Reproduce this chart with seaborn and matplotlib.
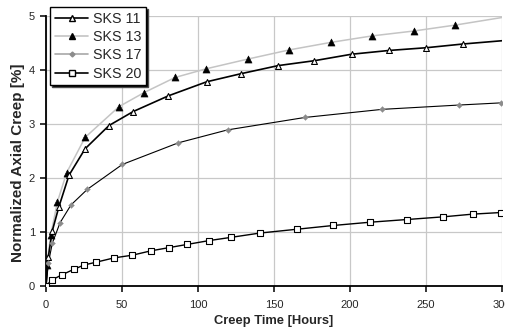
import matplotlib

matplotlib.use("Agg")
import matplotlib.pyplot as plt
import pandas as pd
import seaborn as sns
from matplotlib.lines import Line2D

# Values
sks11_hours = [0, 1.5, 4.1, 8.5, 15.1, 25.7, 41.4, 57.4, 80.5, 105.7, 128.3, 152.8,
               176.5, 201, 225.7, 250, 274.5, 300]
sks11_creep = [0, 0.54, 1.02, 1.47, 2.05, 2.54, 2.97, 3.23, 3.52, 3.78, 3.93, 4.08,
               4.17, 4.29, 4.36, 4.41, 4.48, 4.54]
sks11_marked = [False] + [True] * 16 + [False]

sks13_hours = [0, 0.5, 3.1, 7.5, 13.6, 25.7, 48, 64.5, 84.9, 105.3, 132.7, 160,
               187.5, 214.7, 242, 269.3, 300]
sks13_creep = [0, 0.39, 0.94, 1.56, 2.10, 2.75, 3.32, 3.58, 3.86, 4.02, 4.20, 4.37,
               4.51, 4.63, 4.72, 4.83, 4.97]
sks13_marked = [False] + [True] * 15 + [False]

sks17_hours = [0, 1.5, 4.1, 9.2, 16.4, 27.2, 50.2, 87, 119.5, 170.4, 221.3, 272, 299.5]
sks17_creep = [0, 0.42, 0.79, 1.17, 1.50, 1.79, 2.25, 2.65, 2.89, 3.12, 3.27, 3.35, 3.39]

sks20_hours = [0, 3.7, 10.7, 18.4, 25.2, 32.9, 44.7, 56.8, 68.9, 80.9, 93, 107.2,
               121.7, 140.8, 164.9, 189, 213, 237.3, 261.4, 280.7, 299.3]
sks20_creep = [0, 0.11, 0.21, 0.31, 0.39, 0.44, 0.52, 0.57, 0.65, 0.71, 0.77, 0.84,
               0.90, 0.98, 1.05, 1.12, 1.18, 1.23, 1.28, 1.33, 1.36]

x_ticks = [0, 50, 100, 150, 200, 250, 300]
y_ticks = [0, 1, 2, 3, 4, 5]

sns.set_style("white")
plt.rcParams["font.family"] = ["Liberation Sans", "DejaVu Sans"]

fig = plt.figure(figsize=(5.06, 3.31), dpi=100)
ax = fig.add_axes([0.091, 0.136, 0.901, 0.816])

sks11 = pd.DataFrame({"hours": sks11_hours, "creep": sks11_creep})
sks13 = pd.DataFrame({"hours": sks13_hours, "creep": sks13_creep})
sks17 = pd.DataFrame({"hours": sks17_hours, "creep": sks17_creep})
sks20 = pd.DataFrame({"hours": sks20_hours, "creep": sks20_creep})

# SKS 13: light grey curve with black triangles
sns.lineplot(data=sks13, x="hours", y="creep", ax=ax, color="#c4c4c4", lw=1.1,
             legend=False, zorder=2)
m13 = sks13[sks13_marked]
sns.scatterplot(data=m13, x="hours", y="creep", ax=ax, marker="^", color="black",
                s=26, edgecolor="black", legend=False, zorder=4)

# SKS 11: black curve with open triangles
sns.lineplot(data=sks11, x="hours", y="creep", ax=ax, color="black", lw=1.2,
             legend=False, zorder=3)
m11 = sks11[sks11_marked]
sns.scatterplot(data=m11, x="hours", y="creep", ax=ax, marker="^", color="white",
                s=18, edgecolor="black", linewidth=0.8, legend=False, zorder=5)

# SKS 17: thin black fit with grey diamonds
sns.lineplot(data=sks17, x="hours", y="creep", ax=ax, color="black", lw=0.8,
             legend=False, zorder=3)
sns.scatterplot(data=sks17.iloc[1:], x="hours", y="creep", ax=ax, marker="D",
                color="#8c8c8c", s=9, edgecolor="#8c8c8c", legend=False, zorder=5)

# SKS 20: black line with open squares
sns.lineplot(data=sks20, x="hours", y="creep", ax=ax, color="black", lw=1.0,
             legend=False, zorder=3)
sns.scatterplot(data=sks20, x="hours", y="creep", ax=ax, marker="s", color="white",
                s=16, edgecolor="black", linewidth=0.8, legend=False, zorder=5)

ax.set_xlim(0, 300)
ax.set_ylim(0, 5)
ax.set_xticks(x_ticks)
ax.set_yticks(y_ticks)
ax.grid(True, color="#c8c8c8", lw=0.9)
ax.set_axisbelow(True)
for side in ["top", "right"]:
    ax.spines[side].set_visible(False)
for side in ["left", "bottom"]:
    ax.spines[side].set_color("black")
    ax.spines[side].set_linewidth(1.3)
ax.tick_params(axis="both", direction="out", length=4, width=1.1, color="black",
               labelsize=8, bottom=True, left=True)
ax.tick_params(axis="x", pad=6)
ax.tick_params(axis="y", pad=4)
ax.set_xlabel("Creep Time [Hours]", fontsize=9.3, fontweight="bold", labelpad=4)
ax.set_ylabel("Normalized Axial Creep [%]", fontsize=11, fontweight="bold")
ax.yaxis.set_label_coords(-0.047, 0.455)

handles = [
    Line2D([], [], color="black", lw=1.2, marker="^", markerfacecolor="white",
           markeredgecolor="black", markersize=4),
    Line2D([], [], color="#c4c4c4", lw=1.2, marker="^", markerfacecolor="black",
           markeredgecolor="black", markersize=4.5),
    Line2D([], [], color="#a8a8a8", lw=1.2, marker="D", markerfacecolor="#8c8c8c",
           markeredgecolor="#8c8c8c", markersize=2.5),
    Line2D([], [], color="black", lw=1.2, marker="s", markerfacecolor="white",
           markeredgecolor="black", markersize=4),
]
labels = ["SKS 11", "SKS 13", "SKS 17", "SKS 20"]
leg = ax.legend(handles, labels, loc="upper left", bbox_to_anchor=(0.009, 1.033),
                fontsize=10.3, frameon=True, fancybox=False,
                shadow={"ox": 1.5, "oy": -1.5, "facecolor": "black", "alpha": 1},
                handlelength=2.35, handletextpad=0.3, borderpad=0.33,
                labelspacing=0.3, borderaxespad=0)
leg.get_frame().set_edgecolor("black")
leg.get_frame().set_linewidth(1.0)
leg.set_zorder(10)

fig.savefig("out.png", dpi=100)
